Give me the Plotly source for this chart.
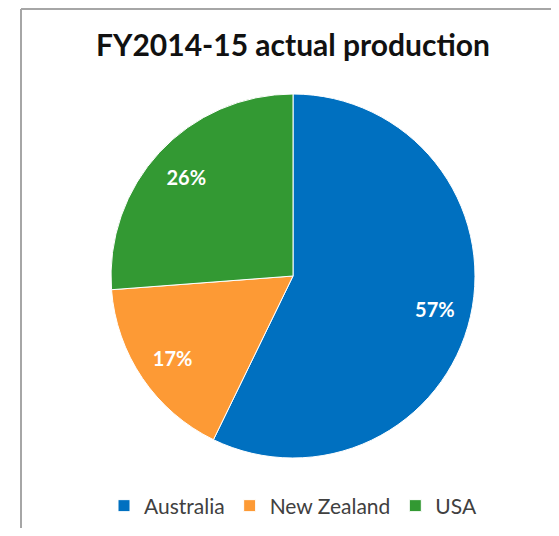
import plotly.graph_objects as go

# page body has an 8px margin, so the figure is drawn 16px smaller and
# all pixel positions below are shifted by that margin
OFF = 8
W, H = 559 - 2 * OFF, 536 - 2 * OFF


def px(x):
    return (x - OFF) / W


def py(y):
    return 1 - (y - OFF) / H


countries = ["Australia", "New Zealand", "USA"]
shares = [57.2, 16.6, 26.2]
colors = ["#0070C0", "#FD9A35", "#339933"]

pie_domain = dict(x=[px(111), px(475)], y=[py(458), py(94)])

fig = go.Figure()

# coloured slices
fig.add_trace(go.Pie(
    labels=countries,
    values=shares,
    sort=False,
    direction="clockwise",
    rotation=0,
    marker=dict(colors=colors, line=dict(color="white", width=1)),
    textinfo="none",
    domain=pie_domain,
    hoverinfo="label+percent",
))

# transparent ring on top, only to place the percentage labels further out
fig.add_trace(go.Pie(
    labels=countries,
    values=shares,
    sort=False,
    direction="clockwise",
    rotation=0,
    hole=0.6,
    marker=dict(colors=["rgba(0,0,0,0)"] * 3, line=dict(width=0)),
    texttemplate="%{percent:.0%}",
    textposition="inside",
    insidetextorientation="horizontal",
    textfont=dict(family="Lato", size=20, color="white", weight="bold"),
    domain=pie_domain,
    hoverinfo="skip",
    showlegend=False,
))

# chart frame (only top and left edges visible in the crop)
frame = dict(color="#A6A6A6", width=2)
fig.add_shape(type="line", xref="paper", yref="paper",
              x0=px(21), x1=1.1, y0=py(9), y1=py(9), line=frame)
fig.add_shape(type="line", xref="paper", yref="paper",
              x0=px(21), x1=px(21), y0=-0.1, y1=py(9), line=frame)

fig.update_layout(
    width=W, height=H,
    margin=dict(l=0, r=0, t=0, b=0),
    paper_bgcolor="white",
    title=dict(text="<b>FY2014-15 actual production</b>",
               x=px(293), xanchor="center", y=py(45), yanchor="middle",
               font=dict(family="Lato", size=30, color="#111111")),
    legend=dict(orientation="h", x=px(293), xanchor="center",
                y=py(506), yanchor="middle",
                font=dict(family="Lato", size=21, color="#404040"),
                itemwidth=30, traceorder="normal"),
    showlegend=True,
)

fig.write_html("out.html")
